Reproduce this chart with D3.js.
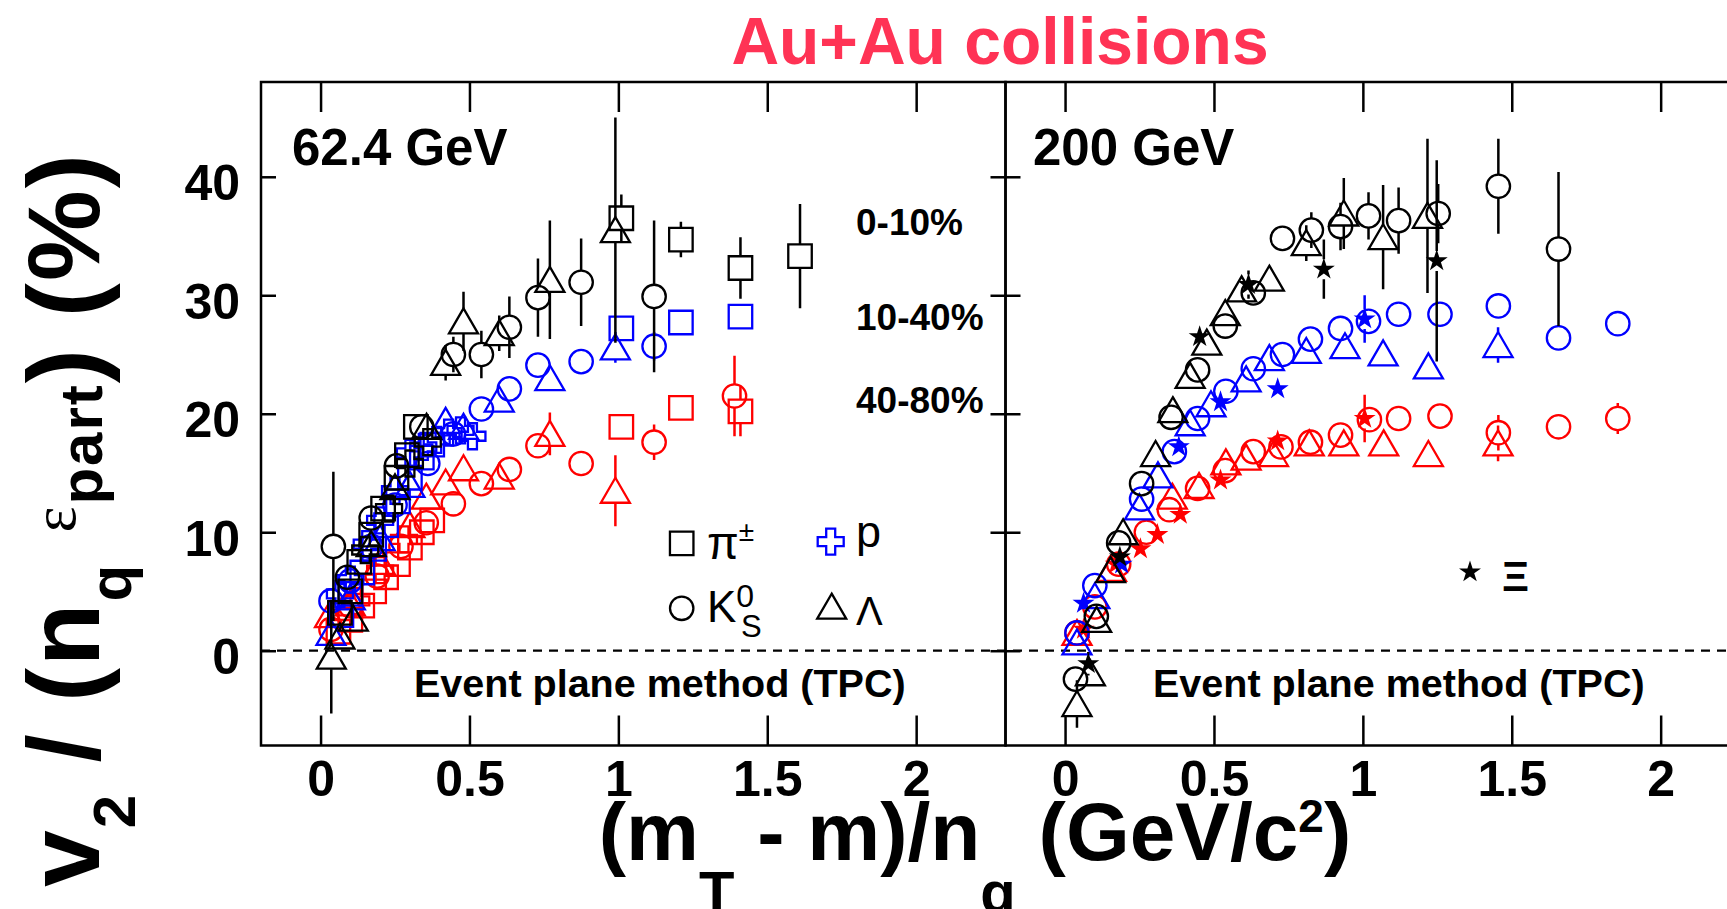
<!DOCTYPE html>
<html>
<head>
<meta charset="utf-8">
<script src="https://cdn.jsdelivr.net/npm/d3@7"></script>
<style>
  html, body { margin: 0; padding: 0; background: #fff; }
  svg { display: block; }
  text { font-family: "Liberation Sans", Arial, Helvetica, sans-serif; }
</style>
</head>
<body>
<svg id="chart" width="1727" height="909"></svg>
<script>
// ---- axis setup ----
const xDomain = [-0.2, 2.3];
const yDomain = [-8, 48];
const xTicks = [0, 0.5, 1, 1.5, 2];
const xTickLabels = ["0", "0.5", "1", "1.5", "2"];
const yTicks = [0, 10, 20, 30, 40];
const yTickLabels = ["0", "10", "20", "30", "40"];
const centralities = ["0-10%", "10-40%", "40-80%"];
const energies = ["62.4 GeV", "200 GeV"];

// ---- v2/(nq eps_part) in %, points are [ (mT-m)/nq , value , error ] ----
// 62.4 GeV
const pion62_0_10 = [[0.065,3.2,0.3],[0.10,5.0,0.3],[0.13,7.5,0.3],[0.17,9.8,0.4],[0.21,12.0,0.4],[0.255,14.6,0.5],[0.29,16.5,0.5],[0.32,18.9,0.6],[1.01,36.5,2.0],[1.21,34.7,1.5],[1.41,32.3,2.6],[1.61,33.3,4.4]];
const pion62_10_40 = [[0.07,3.0,0.2],[0.10,4.8,0.2],[0.14,6.6,0.2],[0.18,8.6,0.3],[0.22,10.6,0.3],[0.26,12.6,0.3],[0.30,14.6,0.4],[0.34,16.3,0.4],[0.375,17.4,0.4],[1.01,27.2,0.6],[1.21,27.7,0.6],[1.41,28.2,0.6]];
const pion62_40_80 = [[0.06,1.6,0.2],[0.10,2.6,0.2],[0.14,3.8,0.2],[0.18,5.0,0.3],[0.22,6.2,0.3],[0.26,7.3,0.3],[0.30,8.7,0.4],[0.34,10.0,0.4],[0.375,11.0,0.4],[1.01,18.9,0.6],[1.21,20.5,0.6],[1.41,20.2,2.1]];

const kaon62_0_10 = [[0.043,8.8,6.3],[0.09,6.2,0.8],[0.17,11.2,0.8],[0.255,15.6,0.8],[0.34,18.9,0.9],[0.446,25.0,1.5],[0.54,25.0,2.0],[0.634,27.3,2.6],[0.73,29.8,3.3],[0.875,31.1,3.7],[1.12,29.9,6.4]];
const kaon62_10_40 = [[0.035,4.2,0.5],[0.10,5.9,0.4],[0.17,8.8,0.4],[0.25,12.3,0.4],[0.36,15.8,0.4],[0.446,18.3,0.5],[0.54,20.4,0.5],[0.634,22.1,0.6],[0.73,24.1,0.7],[0.875,24.4,0.8],[1.12,25.7,1.2]];
const kaon62_40_80 = [[0.035,1.8,0.5],[0.10,3.8,0.4],[0.19,6.3,0.4],[0.27,8.8,0.4],[0.355,10.8,0.5],[0.446,12.4,0.5],[0.54,14.1,0.6],[0.634,15.3,0.6],[0.73,17.3,0.8],[0.875,15.8,0.9],[1.12,17.6,1.5],[1.39,21.5,3.4]];

const lambda62_0_10 = [[0.036,-0.5,4.8],[0.065,1.2,1.0],[0.11,2.7,0.8],[0.17,9.0,0.8],[0.25,13.8,0.8],[0.356,18.9,0.8],[0.42,24.3,1.5],[0.48,27.8,2.5],[0.60,26.8,1.5],[0.77,31.3,5.0],[0.99,35.5,9.5]];
const lambda62_10_40 = [[0.035,1.5,0.6],[0.10,4.5,0.4],[0.20,9.5,0.4],[0.30,14.0,0.4],[0.42,19.4,0.5],[0.48,18.9,0.5],[0.60,21.2,0.6],[0.77,23.0,0.8],[0.99,25.6,1.3]];
const lambda62_40_80 = [[0.03,3.0,0.8],[0.10,4.0,0.5],[0.20,7.5,0.5],[0.30,10.6,0.5],[0.355,13.0,0.5],[0.42,14.2,0.6],[0.48,15.4,0.6],[0.60,14.7,0.7],[0.77,18.3,1.8],[0.99,13.5,3.0]];

const proton62_0_10 = [[0.15,8.5,0.5],[0.23,12.0,0.5],[0.30,15.8,0.6],[0.36,17.6,0.7]];
const proton62_10_40 = [[0.065,4.8,0.3],[0.10,6.0,0.3],[0.155,9.0,0.3],[0.20,11.0,0.3],[0.25,13.5,0.4],[0.30,16.7,0.4],[0.345,17.2,0.4],[0.39,17.8,0.5],[0.43,18.4,0.5],[0.47,18.6,0.6],[0.51,18.1,0.8]];
const proton62_40_80 = [[0.12,4.2,0.4],[0.20,6.8,0.4],[0.28,9.4,0.5]];

// 200 GeV
const kaon200_0_10 = [[0.035,-2.4,0.8],[0.105,2.9,0.5],[0.18,9.1,0.4],[0.257,14.1,0.4],[0.356,19.7,0.5],[0.445,23.7,0.6],[0.538,27.4,0.7],[0.632,30.2,0.8],[0.73,34.8,1.0],[0.827,35.5,1.5],[0.925,35.8,2.0],[1.019,36.7,2.0],[1.12,36.3,2.8],[1.253,36.9,2.5],[1.455,39.2,4.0],[1.657,33.9,6.5]];
const kaon200_10_40 = [[0.04,1.5,0.3],[0.10,5.5,0.3],[0.257,12.8,0.3],[0.367,16.8,0.3],[0.445,19.6,0.3],[0.54,21.9,0.4],[0.632,23.8,0.4],[0.73,25.0,0.4],[0.824,26.3,0.5],[0.925,27.2,0.5],[1.019,27.8,0.6],[1.12,28.4,0.6],[1.259,28.4,0.7],[1.455,29.1,0.8],[1.657,26.4,0.8],[1.856,27.6,1.0]];
const kaon200_40_80 = [[0.04,1.5,0.3],[0.10,3.7,0.3],[0.18,7.3,0.3],[0.273,10.0,0.3],[0.35,11.9,0.3],[0.445,13.7,0.3],[0.538,15.2,0.4],[0.632,16.8,0.4],[0.725,17.2,0.4],[0.824,17.6,0.5],[0.925,18.2,0.5],[1.022,19.5,0.6],[1.12,19.6,0.6],[1.259,19.8,0.7],[1.455,18.4,1.5],[1.657,18.9,0.8],[1.856,19.6,1.3]];

const lambda200_0_10 = [[0.04,-4.5,2.0],[0.085,-1.9,1.0],[0.106,2.6,0.6],[0.153,6.8,0.5],[0.195,10.0,0.5],[0.304,16.6,0.5],[0.362,20.3,0.6],[0.42,23.2,0.6],[0.476,26.0,0.7],[0.538,28.5,0.8],[0.593,30.5,0.8],[0.686,31.4,0.9],[0.81,34.4,1.5],[0.936,36.9,3.0],[1.068,34.9,4.4],[1.217,36.7,6.5]];
const lambda200_10_40 = [[0.04,0.7,0.3],[0.10,4.6,0.3],[0.25,12.1,0.3],[0.312,14.8,0.3],[0.42,19.2,0.3],[0.49,20.8,0.4],[0.608,22.9,0.4],[0.686,24.7,0.4],[0.81,25.3,0.5],[0.94,25.7,0.6],[1.068,25.1,0.7],[1.22,24.0,0.9],[1.454,25.8,1.5]];
const lambda200_40_80 = [[0.04,1.5,0.3],[0.156,6.9,0.3],[0.36,13.0,0.3],[0.45,13.9,0.3],[0.54,15.9,0.4],[0.608,16.3,0.4],[0.70,16.6,0.4],[0.82,17.5,0.5],[0.936,17.5,0.6],[1.07,17.5,0.7],[1.22,16.6,0.9],[1.454,17.5,1.5]];

const xi200_0_10 = [[0.078,-1.1,1.0],[0.184,7.9,0.6],[0.452,26.5,0.8],[0.616,30.9,1.2],[0.869,32.2,2.5],[1.248,32.9,8.5]];
const xi200_10_40 = [[0.062,4.0,0.4],[0.19,7.3,0.4],[0.382,17.2,0.5],[0.522,21.0,0.6],[0.714,22.1,0.8],[1.006,28.0,2.0]];
const xi200_40_80 = [[0.062,1.8,0.4],[0.17,7.3,0.4],[0.253,8.6,0.4],[0.31,9.8,0.4],[0.387,11.5,0.5],[0.522,14.4,0.6],[0.714,17.7,0.8],[1.006,19.6,2.0]];

// ---- layout ----
const svg = d3.select("#chart");
const frame = { top: 82, bottom: 745.5, left: 261, mid: 1005.5, right: 1750 };
const y = d3.scaleLinear().domain(yDomain).range([frame.bottom, frame.top]);
const xL = d3.scaleLinear().domain(xDomain).range([frame.left, frame.mid]);
const xR = d3.scaleLinear().domain(xDomain).range([frame.mid, frame.right]);

const centColor = { "0-10%": "#000000", "10-40%": "#0000ff", "40-80%": "#ff0000" };

// marker outlines centred on (0,0); half = vertical half-extent for error-bar gaps
const markers = {
  square:   { d: "M-11.75,-11.75h23.5v23.5h-23.5z", half: 12, fill: false },
  circle:   { d: "M11.7,0A11.7,11.7 0 1 1 -11.7,0A11.7,11.7 0 1 1 11.7,0Z", half: 12, fill: false },
  triangle: { d: "M0,-13L14.5,12L-14.5,12Z", half: 12.5, fill: false },
  cross:    { d: "M-4.5,-13H4.5V-4.5H13V4.5H4.5V13H-4.5V4.5H-13V-4.5H-4.5Z", half: 13, fill: false },
  star:     { d: d3.symbol(d3.symbolStar).size(150)(), half: 10, fill: true }
};

const series62 = [
  { shape: "square",   cent: "40-80%", data: pion62_40_80 },
  { shape: "cross",    cent: "40-80%", data: proton62_40_80 },
  { shape: "circle",   cent: "40-80%", data: kaon62_40_80 },
  { shape: "triangle", cent: "40-80%", data: lambda62_40_80 },
  { shape: "square",   cent: "10-40%", data: pion62_10_40 },
  { shape: "circle",   cent: "10-40%", data: kaon62_10_40 },
  { shape: "triangle", cent: "10-40%", data: lambda62_10_40 },
  { shape: "cross",    cent: "10-40%", data: proton62_10_40 },
  { shape: "square",   cent: "0-10%",  data: pion62_0_10 },
  { shape: "cross",    cent: "0-10%",  data: proton62_0_10 },
  { shape: "circle",   cent: "0-10%",  data: kaon62_0_10 },
  { shape: "triangle", cent: "0-10%",  data: lambda62_0_10 }
];
const series200 = [
  { shape: "circle",   cent: "40-80%", data: kaon200_40_80 },
  { shape: "triangle", cent: "40-80%", data: lambda200_40_80 },
  { shape: "star",     cent: "40-80%", data: xi200_40_80 },
  { shape: "circle",   cent: "10-40%", data: kaon200_10_40 },
  { shape: "triangle", cent: "10-40%", data: lambda200_10_40 },
  { shape: "star",     cent: "10-40%", data: xi200_10_40 },
  { shape: "circle",   cent: "0-10%",  data: kaon200_0_10 },
  { shape: "triangle", cent: "0-10%",  data: lambda200_0_10 },
  { shape: "star",     cent: "0-10%",  data: xi200_0_10 }
];

// ---- title ----
svg.append("text")
  .attr("x", 1000).attr("y", 64)
  .attr("text-anchor", "middle")
  .attr("font-size", 66).attr("font-weight", "bold")
  .attr("fill", "#ff3355")
  .text("Au+Au collisions");

// ---- axes ----
function styleAxis(g) {
  g.select(".domain").remove();
  g.selectAll(".tick line").attr("stroke", "#000").attr("stroke-width", 2.5);
  g.selectAll(".tick text")
    .attr("fill", "#000")
    .attr("font-size", 50)
    .attr("font-weight", "bold")
    .attr("font-family", "'Liberation Sans', Arial, Helvetica, sans-serif");
}

[xL, xR].forEach(x => {
  svg.append("g")
    .attr("transform", `translate(0,${frame.bottom})`)
    .call(d3.axisBottom(x).tickValues(xTicks).tickSize(-30).tickPadding(15)
      .tickFormat((d, i) => xTickLabels[i]))
    .call(styleAxis);
  svg.append("g")
    .attr("transform", `translate(0,${frame.top})`)
    .call(d3.axisTop(x).tickValues(xTicks).tickSize(-30).tickFormat(""))
    .call(styleAxis);
});

svg.append("g")
  .attr("transform", `translate(${frame.left},0)`)
  .call(d3.axisLeft(y).tickValues(yTicks).tickSize(-15).tickPadding(21)
    .tickFormat((d, i) => yTickLabels[i]))
  .call(styleAxis)
  .call(g => g.selectAll(".tick text").attr("dy", "0.46em"));

// ticks on both sides of the shared edge between the panels
svg.append("g")
  .attr("transform", `translate(${frame.mid},0)`)
  .call(d3.axisLeft(y).tickValues(yTicks).tickSize(15).tickFormat(""))
  .call(styleAxis);
svg.append("g")
  .attr("transform", `translate(${frame.mid},0)`)
  .call(d3.axisRight(y).tickValues(yTicks).tickSize(15).tickFormat(""))
  .call(styleAxis);

// zero line
svg.append("line")
  .attr("x1", frame.left).attr("x2", frame.right)
  .attr("y1", y(0)).attr("y2", y(0))
  .attr("stroke", "#000").attr("stroke-width", 2.3)
  .attr("stroke-dasharray", "9,7");

// frames
[[frame.left, frame.mid], [frame.mid, frame.right]].forEach(([a, b]) => {
  svg.append("rect")
    .attr("x", a).attr("y", frame.top)
    .attr("width", b - a).attr("height", frame.bottom - frame.top)
    .attr("fill", "none").attr("stroke", "#000").attr("stroke-width", 2.5);
});

// ---- data ----
function drawSeries(x, list) {
  const g = svg.append("g");
  list.forEach(s => {
    const m = markers[s.shape];
    const col = centColor[s.cent];
    const sg = g.append("g");
    // error bars, interrupted by the marker
    sg.selectAll("path.err")
      .data(s.data.filter(d => (y(d[1] - d[2]) - y(d[1] + d[2])) / 2 > m.half))
      .join("path")
      .attr("class", "err")
      .attr("d", d => {
        const px = x(d[0]), py = y(d[1]);
        return `M${px},${y(d[1] + d[2])}V${py - m.half}M${px},${py + m.half}V${y(d[1] - d[2])}`;
      })
      .attr("stroke", col).attr("stroke-width", 2.5).attr("fill", "none");
    sg.selectAll("path.mk")
      .data(s.data)
      .join("path")
      .attr("class", "mk")
      .attr("d", m.d)
      .attr("transform", d => `translate(${x(d[0])},${y(d[1])})`)
      .attr("fill", m.fill ? col : "none")
      .attr("stroke", m.fill ? "none" : col)
      .attr("stroke-width", 2.3);
  });
}
drawSeries(xL, series62);
drawSeries(xR, series200);

// ---- panel annotations ----
function label(x, yy, txt, size, weight) {
  return svg.append("text").attr("x", x).attr("y", yy)
    .attr("font-size", size).attr("font-weight", weight || "bold").attr("fill", "#000").text(txt);
}
label(292, 165, energies[0], 51);
label(1033, 165, energies[1], 51);
label(856, 235, centralities[0], 37);
label(856, 330, centralities[1], 37);
label(856, 413, centralities[2], 37);
label(414, 697, "Event plane method (TPC)", 39.5);
label(1153, 697, "Event plane method (TPC)", 39.5);

// ---- legend ----
function legendMarker(shape, cx, cy, col) {
  const m = markers[shape];
  svg.append("path").attr("d", m.d)
    .attr("transform", `translate(${cx},${cy})`)
    .attr("fill", m.fill ? col : "none")
    .attr("stroke", m.fill ? "none" : col)
    .attr("stroke-width", 2.3);
}
const serif = "'Liberation Serif', 'DejaVu Serif', 'Times New Roman', serif";
legendMarker("square", 681.7, 543.3, "#000");
svg.append("text").attr("x", 707).attr("y", 559).attr("font-size", 46)
  .attr("font-family", serif).text("π")
  .append("tspan").attr("dy", -18).attr("font-size", 28).text("±");
legendMarker("cross", 830.7, 541.7, "#0000ff");
label(856, 547, "p", 45, "normal");
legendMarker("circle", 681.7, 608.3, "#000");
const kt = svg.append("text").attr("x", 707).attr("y", 622).attr("font-size", 44);
kt.append("tspan").text("K");
kt.append("tspan").attr("dy", -15).attr("font-size", 32).text("0");
kt.append("tspan").attr("x", 741).attr("dy", 30).attr("font-size", 31).text("S");
legendMarker("triangle", 831.7, 606.7, "#000");
svg.append("text").attr("x", 856).attr("y", 625).attr("font-size", 40)
  .attr("font-family", serif).text("Λ");
legendMarker("star", 1470, 572, "#000");
svg.append("text").attr("x", 1502).attr("y", 591).attr("font-size", 42)
  .attr("font-weight", "bold").attr("font-family", serif).text("Ξ");

// ---- axis titles ----
const xt = svg.append("text")
  .attr("x", 975).attr("y", 860)
  .attr("text-anchor", "middle")
  .attr("font-size", 82).attr("font-weight", "bold");
xt.append("tspan").text("(m");
xt.append("tspan").attr("font-size", 58).attr("dy", 52).text("T");
xt.append("tspan").attr("dy", -52).text(" - m)/n");
xt.append("tspan").attr("font-size", 58).attr("dy", 52).text("q");
xt.append("tspan").attr("dy", -52).text(" (GeV/c");
xt.append("tspan").attr("font-size", 46).attr("dy", -28).text("2");
xt.append("tspan").attr("dy", 28).text(")");

const yt = svg.append("text")
  .attr("transform", "translate(99,887) rotate(-90)")
  .attr("text-anchor", "start")
  .attr("letter-spacing", 2)
  .attr("font-size", 102).attr("font-weight", "bold");
yt.append("tspan").text("v");
yt.append("tspan").attr("font-size", 60).attr("dy", 36).text("2");
yt.append("tspan").attr("dy", -36).text(" / (n");
yt.append("tspan").attr("font-size", 60).attr("dy", 32).text("q");
yt.append("tspan").attr("dy", -32).text(" ");
yt.append("tspan").attr("font-size", 62).attr("font-weight", "normal")
  .attr("font-family", serif).attr("dy", -24).text("ε");
yt.append("tspan").attr("font-size", 60).attr("dy", 27).text("part");
yt.append("tspan").attr("dy", -3).text(") (%)");
</script>
</body>
</html>
